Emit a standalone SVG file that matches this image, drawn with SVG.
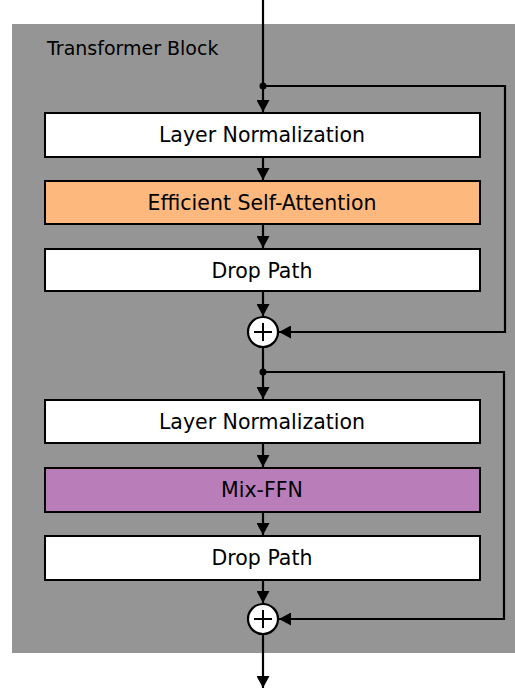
<svg xmlns="http://www.w3.org/2000/svg" width="515" height="688" viewBox="0 0 515 688">
<style>
.box{stroke:#000;stroke-width:2}
.lbl{font-family:"DejaVu Sans","Liberation Sans",sans-serif;font-size:20.5px;fill:#000;text-anchor:middle}
.ln{fill:none;stroke:#000;stroke-width:2.2}
</style>
<defs>
<marker id="ah" markerUnits="userSpaceOnUse" markerWidth="13" markerHeight="13" refX="12" refY="6.5" orient="auto">
<path d="M0,0 L12,6.5 L0,13 z" fill="#000"/>
</marker>
</defs>
<rect x="0" y="0" width="515" height="688" fill="#fff"/>
<g id="block">
<rect x="12" y="24" width="503" height="629" fill="#959595"/>
<text x="47" y="55.3" font-family="'DejaVu Sans','Liberation Sans',sans-serif" font-size="19px" fill="#000">Transformer Block</text>
</g>
<g id="connectors">
<path class="ln" d="M263,0 V112" marker-end="url(#ah)"/>
<path class="ln" d="M263,86 H505 V332 H279" marker-end="url(#ah)"/>
<path class="ln" d="M263,157 V180" marker-end="url(#ah)"/>
<path class="ln" d="M263,224 V248" marker-end="url(#ah)"/>
<path class="ln" d="M263,291 V316" marker-end="url(#ah)"/>
<path class="ln" d="M263,347 V399" marker-end="url(#ah)"/>
<path class="ln" d="M263,372 H504 V619 H279" marker-end="url(#ah)"/>
<path class="ln" d="M263,443 V467" marker-end="url(#ah)"/>
<path class="ln" d="M263,512 V535" marker-end="url(#ah)"/>
<path class="ln" d="M263,580 V603" marker-end="url(#ah)"/>
<path class="ln" d="M263,634 V688" marker-end="url(#ah)"/>
<circle cx="263" cy="86" r="3.5" fill="#000"/>
<circle cx="263" cy="372" r="3.5" fill="#000"/>
</g>
<g id="ln1"><rect class="box" x="45" y="113" width="435" height="44" fill="#fff"/><text class="lbl" x="262" y="142">Layer Normalization</text></g>
<g id="esa"><rect class="box" x="45" y="181" width="435" height="43" fill="#FDB87E"/><text class="lbl" x="262" y="210">Efficient Self-Attention</text></g>
<g id="dp1"><rect class="box" x="45" y="249" width="435" height="42" fill="#fff"/><text class="lbl" x="262" y="277.5">Drop Path</text></g>
<g id="add1"><circle cx="263" cy="332" r="15" fill="#fff" stroke="#000" stroke-width="2.2"/><path d="M254,332 H272 M263,323 V341" stroke="#000" stroke-width="2"/></g>
<g id="ln2"><rect class="box" x="45" y="400" width="435" height="43" fill="#fff"/><text class="lbl" x="262" y="429">Layer Normalization</text></g>
<g id="mixffn"><rect class="box" x="45" y="468" width="435" height="44" fill="#B97DB9"/><text class="lbl" x="262" y="497">Mix-FFN</text></g>
<g id="dp2"><rect class="box" x="45" y="536" width="435" height="44" fill="#fff"/><text class="lbl" x="262" y="565">Drop Path</text></g>
<g id="add2"><circle cx="263" cy="619" r="15" fill="#fff" stroke="#000" stroke-width="2.2"/><path d="M254,619 H272 M263,610 V628" stroke="#000" stroke-width="2"/></g>
</svg>
